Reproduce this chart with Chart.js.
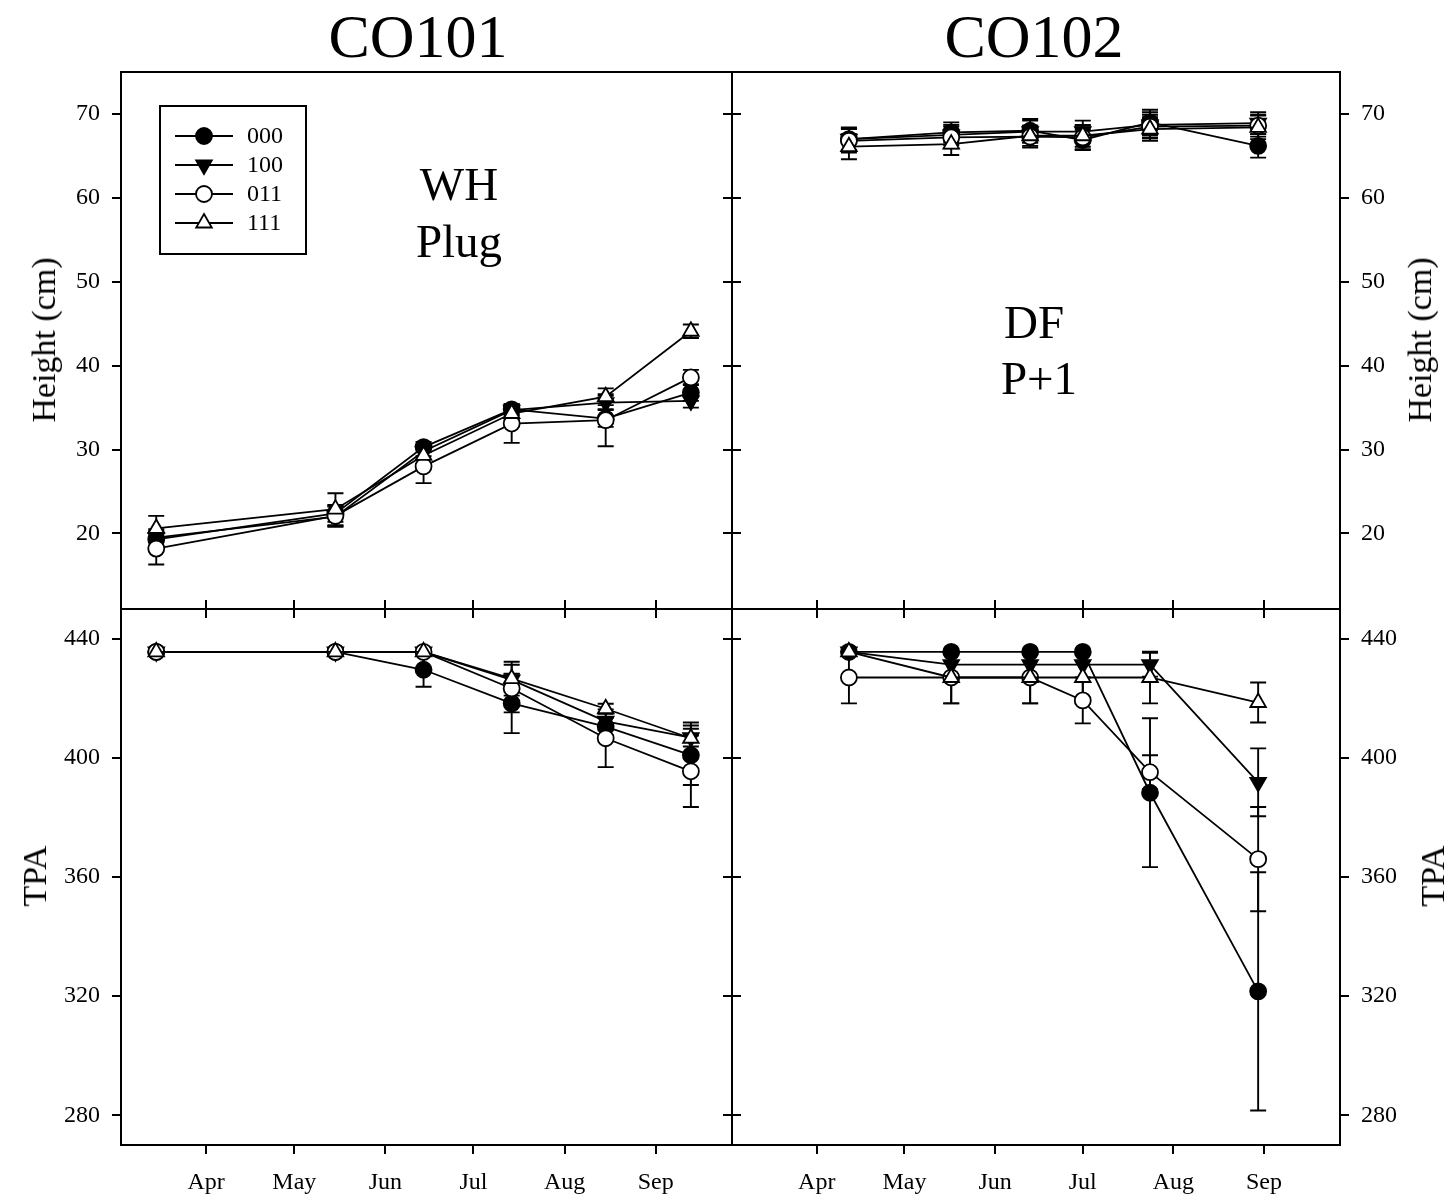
<!DOCTYPE html>
<html><head><meta charset="utf-8">
<script src="https://cdn.jsdelivr.net/npm/chart.js@4/dist/chart.umd.min.js"></script>
<style>
html,body{margin:0;padding:0;background:#fff;}
#wrap{position:relative;width:1450px;height:1198px;overflow:hidden;font-family:"Liberation Serif","Times New Roman",serif;color:#000;background:#fff;}
canvas{position:absolute;left:0;top:0;}
.t{position:absolute;white-space:nowrap;line-height:1;transform:translate(-50%,-50%);}
.r{transform:translate(-50%,-50%) rotate(-90deg);}
.big{font-size:62px;}
.ann{font-size:47px;}
.ax{font-size:34px;}
</style></head><body>
<div id="wrap">
<canvas id="c1" width="1450" height="1198"></canvas>
<canvas id="c2" width="1450" height="1198"></canvas>
<canvas id="c3" width="1450" height="1198"></canvas>
<canvas id="c4" width="1450" height="1198"></canvas>
<div class="t big" style="left:418px;top:36px;">CO101</div>
<div class="t big" style="left:1034px;top:36px;">CO102</div>
<div class="t ann" style="left:459px;top:184px;">WH</div>
<div class="t ann" style="left:459px;top:241px;">Plug</div>
<div class="t ann" style="left:1034px;top:322px;">DF</div>
<div class="t ann" style="left:1039px;top:378px;">P+1</div>
<div class="t ax r" style="left:44px;top:340px;">Height (cm)</div>
<div class="t ax r" style="left:35px;top:876px;">TPA</div>
<div class="t ax r" style="left:1420px;top:340px;">Height (cm)</div>
<div class="t ax r" style="left:1433px;top:876px;">TPA</div>
</div>
<script>
// ---------- data ----------
const seriesNames = ['000', '100', '011', '111'];
const monthTicks = [91, 121, 152, 182, 213, 244];
const monthLabels = ['Apr', 'May', 'Jun', 'Jul', 'Aug', 'Sep'];
const heightTicks = [20, 30, 40, 50, 60, 70];
const tpaTicks = [280, 320, 360, 400, 440];

const co101Days = [74, 135, 165, 195, 227, 256];
const co102Days = [102, 137, 164, 182, 205, 242];

const co101Height000 = [19.3, 22.4, 30.3, 34.8, 33.7, 36.8];
const co101Height100 = [19.5, 22.0, 29.8, 34.7, 35.6, 35.8];
const co101Height011 = [18.2, 22.1, 28.0, 33.1, 33.5, 38.6];
const co101Height111 = [20.6, 22.9, 29.3, 34.3, 36.3, 44.1];
const co101HeightErr000 = [1.0, 1.0, 0.6, 0.6, 1.0, 1.0];
const co101HeightErr100 = [1.0, 1.2, 0.6, 0.6, 0.8, 0.8];
const co101HeightErr011 = [1.9, 1.2, 2.0, 2.3, 3.1, 0.9];
const co101HeightErr111 = [1.5, 1.9, 1.0, 0.8, 1.0, 0.8];

const co101Tpa000 = [435.6, 435.6, 429.6, 418.3, 410.5, 400.9];
const co101Tpa100 = [435.6, 435.6, 435.6, 426.2, 412.3, 406.8];
const co101Tpa011 = [435.6, 435.6, 435.6, 423.3, 406.6, 395.5];
const co101Tpa111 = [435.6, 435.6, 435.6, 426.6, 416.5, 406.6];
const co101TpaErr000 = [0, 0, 5.7, 10, 3, 10];
const co101TpaErr100 = [0, 0, 0, 2, 3, 3];
const co101TpaErr011 = [0, 0, 0, 8, 9.7, 12];
const co101TpaErr111 = [0, 0, 0, 5.7, 1.7, 5.3];

const co102Height000 = [67.0, 67.8, 68.0, 66.9, 69.0, 66.2];
const co102Height100 = [67.0, 67.5, 67.9, 67.9, 68.7, 68.9];
const co102Height011 = [66.8, 67.2, 67.3, 67.2, 68.5, 68.6];
const co102Height111 = [66.1, 66.4, 67.4, 67.4, 68.2, 68.4];
const co102HeightErr000 = [1.4, 1.2, 1.4, 1.2, 1.5, 1.4];
const co102HeightErr100 = [1.3, 1.2, 1.3, 1.3, 1.5, 1.3];
const co102HeightErr011 = [1.4, 1.3, 1.3, 1.4, 1.4, 1.3];
const co102HeightErr111 = [1.5, 1.3, 1.2, 1.3, 1.4, 1.4];

const co102Tpa000 = [435.6, 435.6, 435.6, 435.6, 388.3, 321.6];
const co102Tpa100 = [435.6, 431.3, 431.3, 431.3, 431.3, 391.8];
const co102Tpa011 = [427.0, 427.0, 427.0, 419.3, 395.2, 366.0];
const co102Tpa111 = [435.6, 427.0, 427.0, 427.0, 427.0, 418.6];
const co102TpaErr000 = [0, 0, 0, 0, 25, 40];
const co102TpaErr100 = [0, 0, 0, 0, 4, 11.4];
const co102TpaErr011 = [8.7, 8.7, 8.7, 7.7, 5.7, 17.5];
const co102TpaErr111 = [0, 8.7, 8.7, 8.7, 8.7, 6.7];

// ---------- styles ----------
const FONT = 'Liberation Serif';
Chart.defaults.font.family = FONT;
Chart.defaults.color = '#000';
const markerStyles = [
  {pointStyle: 'circle', fill: '#000', rot: 0, r: 8},
  {pointStyle: 'triangle', fill: '#000', rot: 180, r: 9},
  {pointStyle: 'circle', fill: '#fff', rot: 0, r: 8},
  {pointStyle: 'triangle', fill: '#fff', rot: 0, r: 9}
];
const drawOrder = [3, 2, 1, 0];
const LINE_W = 1.8;

function makeDatasets(days, vals, errs) {
  return vals.map((v, i) => ({
    label: seriesNames[i],
    data: v.map((y, j) => ({x: days[j], y: y})),
    errorBars: errs[i],
    borderColor: '#000',
    borderWidth: LINE_W,
    pointStyle: markerStyles[i].pointStyle,
    pointRotation: markerStyles[i].rot,
    pointRadius: markerStyles[i].r,
    pointBackgroundColor: markerStyles[i].fill,
    pointBorderColor: '#000',
    pointBorderWidth: LINE_W,
    tension: 0,
    order: drawOrder[i],
    clip: false
  }));
}

const errorBarPlugin = {
  id: 'errbars',
  beforeDatasetsDraw(chart) {
    const ctx = chart.ctx, ys = chart.scales.y;
    ctx.save();
    ctx.strokeStyle = '#000';
    ctx.lineWidth = 1.9;
    chart.data.datasets.forEach((ds, i) => {
      const meta = chart.getDatasetMeta(i);
      (ds.errorBars || []).forEach((e, j) => {
        if (!e) return;
        const pt = meta.data[j];
        const v = ds.data[j].y;
        const yt = ys.getPixelForValue(v + e), yb = ys.getPixelForValue(v - e);
        ctx.beginPath();
        ctx.moveTo(pt.x, yt); ctx.lineTo(pt.x, yb);
        ctx.moveTo(pt.x - 8, yt); ctx.lineTo(pt.x + 8, yt);
        ctx.moveTo(pt.x - 8, yb); ctx.lineTo(pt.x + 8, yb);
        ctx.stroke();
      });
    });
    ctx.restore();
  }
};

const framePlugin = {
  id: 'frame',
  afterDraw(chart) {
    const a = chart.chartArea, ctx = chart.ctx;
    ctx.save();
    ctx.strokeStyle = '#000';
    ctx.lineWidth = 2;
    ctx.strokeRect(a.left, a.top, a.right - a.left, a.bottom - a.top);
    ctx.restore();
  }
};

function drawMarker(ctx, st, x, y) {
  ctx.beginPath();
  if (st.pointStyle === 'circle') {
    ctx.arc(x, y, st.r, 0, Math.PI * 2);
  } else {
    let rad = st.rot * Math.PI / 180;
    for (let k = 0; k < 3; k++) {
      const px = x + Math.sin(rad) * st.r, py = y - Math.cos(rad) * st.r;
      if (k === 0) ctx.moveTo(px, py); else ctx.lineTo(px, py);
      rad += Math.PI * 2 / 3;
    }
    ctx.closePath();
  }
  ctx.fillStyle = st.fill;
  ctx.fill();
  ctx.lineWidth = LINE_W;
  ctx.strokeStyle = '#000';
  ctx.stroke();
}

const boxLegendPlugin = {
  id: 'boxLegend',
  afterDraw(chart) {
    const a = chart.chartArea, ctx = chart.ctx;
    const bx = a.left + 39, by = a.top + 34, bw = 146, bh = 148;
    ctx.save();
    ctx.fillStyle = '#fff';
    ctx.fillRect(bx, by, bw, bh);
    ctx.strokeStyle = '#000';
    ctx.lineWidth = 2;
    ctx.strokeRect(bx, by, bw, bh);
    ctx.font = '24px "' + FONT + '"';
    ctx.textBaseline = 'middle';
    ctx.textAlign = 'left';
    seriesNames.forEach((name, i) => {
      const y = by + 30 + i * 29;
      ctx.beginPath();
      ctx.moveTo(bx + 15, y); ctx.lineTo(bx + 73, y);
      ctx.lineWidth = LINE_W; ctx.strokeStyle = '#000'; ctx.stroke();
      drawMarker(ctx, markerStyles[i], bx + 44, y);
      ctx.fillStyle = '#000';
      ctx.fillText(name, bx + 87, y + 1);
    });
    ctx.restore();
  }
};

const tickGrid = {drawOnChartArea: false, tickLength: 9, color: '#000', lineWidth: 2};
const tickFont = {family: FONT, size: 24};

function setTicks(values) {
  return function (s) { s.ticks = values.map(v => ({value: v})); };
}
function fixSize(w, h) {
  return function (s) { if (w !== null) s.width = w; if (h !== null) s.height = h; };
}
function monthLabel(v) {
  const k = monthTicks.indexOf(v);
  return k >= 0 ? monthLabels[k] : '';
}

function xScale(position, showLabels, h) {
  return {
    type: 'linear', position: position, min: 62, max: 270,
    afterBuildTicks: setTicks(monthTicks),
    ticks: {display: showLabels, font: tickFont, padding: 14, maxRotation: 0, autoSkip: false, callback: monthLabel, color: '#000'},
    grid: tickGrid, border: {display: false},
    afterFit: fixSize(null, h)
  };
}
function yScale(position, min, max, ticks, showLabels, w) {
  return {
    type: 'linear', position: position, min: min, max: max,
    afterBuildTicks: setTicks(ticks),
    ticks: {display: showLabels, font: tickFont, padding: 12, color: '#000'},
    grid: tickGrid, border: {display: false},
    afterFit: fixSize(w, null)
  };
}

function makeChart(id, datasets, scales, padding, extraPlugins) {
  return new Chart(document.getElementById(id), {
    type: 'line',
    data: {datasets: datasets},
    options: {
      responsive: false, animation: false, devicePixelRatio: 1,
      layout: {padding: padding},
      plugins: {legend: {display: false}, title: {display: false}, tooltip: {enabled: false}},
      events: [],
      scales: scales
    },
    plugins: [errorBarPlugin, framePlugin].concat(extraPlugins || [])
  });
}

const H_MIN = 11, H_MAX = 75, T_MIN = 270, T_MAX = 450;

// top-left: CO101 height
makeChart('c1',
  makeDatasets(co101Days,
    [co101Height000, co101Height100, co101Height011, co101Height111],
    [co101HeightErr000, co101HeightErr100, co101HeightErr011, co101HeightErr111]),
  {
    x: xScale('bottom', false, 9),
    y: yScale('left', H_MIN, H_MAX, heightTicks, true, 100),
    y2: yScale('right', H_MIN, H_MAX, heightTicks, false, 9)
  },
  {left: 21, right: 709, top: 72, bottom: 580},
  [boxLegendPlugin]);

// bottom-left: CO101 TPA
makeChart('c2',
  makeDatasets(co101Days,
    [co101Tpa000, co101Tpa100, co101Tpa011, co101Tpa111],
    [co101TpaErr000, co101TpaErr100, co101TpaErr011, co101TpaErr111]),
  {
    x: xScale('bottom', true, 53),
    x2: xScale('top', false, 9),
    y: yScale('left', T_MIN, T_MAX, tpaTicks, true, 100),
    y2: yScale('right', T_MIN, T_MAX, tpaTicks, false, 9)
  },
  {left: 21, right: 709, top: 600, bottom: 0});

// top-right: CO102 height
makeChart('c3',
  makeDatasets(co102Days,
    [co102Height000, co102Height100, co102Height011, co102Height111],
    [co102HeightErr000, co102HeightErr100, co102HeightErr011, co102HeightErr111]),
  {
    x: xScale('bottom', false, 9),
    y2: yScale('left', H_MIN, H_MAX, heightTicks, false, 9),
    y: yScale('right', H_MIN, H_MAX, heightTicks, true, 110)
  },
  {left: 723, right: 0, top: 72, bottom: 580});

// bottom-right: CO102 TPA
makeChart('c4',
  makeDatasets(co102Days,
    [co102Tpa000, co102Tpa100, co102Tpa011, co102Tpa111],
    [co102TpaErr000, co102TpaErr100, co102TpaErr011, co102TpaErr111]),
  {
    x: xScale('bottom', true, 53),
    x2: xScale('top', false, 9),
    y2: yScale('left', T_MIN, T_MAX, tpaTicks, false, 9),
    y: yScale('right', T_MIN, T_MAX, tpaTicks, true, 110)
  },
  {left: 723, right: 0, top: 600, bottom: 0});
</script>
</body></html>
